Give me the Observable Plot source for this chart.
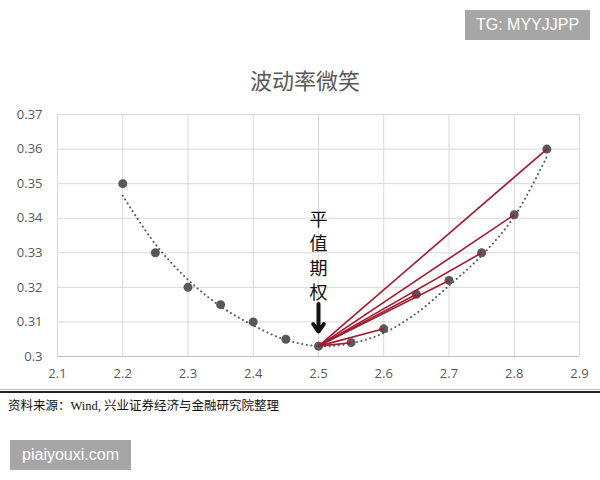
<!DOCTYPE html>
<html>
<head>
<meta charset="utf-8">
<script src="https://cdn.jsdelivr.net/npm/d3@7"></script>
<script src="https://cdn.jsdelivr.net/npm/@observablehq/plot@0.6"></script>
<style>
  html, body { margin: 0; padding: 0; background: #fff; }
  #page { position: relative; width: 600px; height: 480px; overflow: hidden; background: #fff; }
  #title { position: absolute; left: 0; width: 610px; top: 65px; text-align: center;
           font-family: "Noto Sans CJK SC", sans-serif; font-size: 22px; color: #595959; line-height: 28px; }
  #chart { position: absolute; left: 0; top: 95px; }
  #rule { position: absolute; left: 0; top: 391px; width: 600px; height: 2px; background: #222; }
  #rule2 { position: absolute; left: 0; top: 389px; width: 600px; height: 1px; background: #bbb; }
  #caption { position: absolute; left: 8px; top: 397px; font-family: "Liberation Serif", "Noto Sans CJK SC", serif;
             font-size: 12.5px; color: #111; line-height: 18px; }
  .wm { position: absolute; background: #a6a6a6; color: #fff; font-family: "Liberation Sans", Arial, sans-serif;
        font-size: 16px; display: flex; align-items: center; justify-content: center; }
  #wm1 { left: 465px; top: 10px; width: 125px; height: 30px; }
  #wm2 { left: 10px; top: 440px; width: 121px; height: 30px; }
</style>
</head>
<body>
<div id="page">
  <div id="title">波动率微笑</div>
  <div id="chart"></div>
  <div id="rule2"></div>
  <div id="rule"></div>
  <div id="caption">资料来源：Wind, 兴业证券经济与金融研究院整理</div>
  <div class="wm" id="wm1">TG: MYYJJPP</div>
  <div class="wm" id="wm2">piaiyouxi.com</div>
</div>
<script>
// Observed implied volatilities by strike
const strikes = [2.2, 2.25, 2.3, 2.35, 2.4, 2.45, 2.5, 2.55, 2.6, 2.65, 2.7, 2.75, 2.8, 2.85];
const vols    = [0.350, 0.330, 0.320, 0.315, 0.310, 0.305, 0.303, 0.304, 0.308, 0.318, 0.322, 0.330, 0.341, 0.360];

// Dotted trend curve
const trendX = [2.2, 2.25, 2.3, 2.35, 2.4, 2.45, 2.5, 2.55, 2.6, 2.65, 2.7, 2.75, 2.8, 2.85];
const trendY = [0.3465, 0.3325, 0.3222, 0.3145, 0.3090, 0.3048, 0.3030, 0.3038, 0.3068, 0.3125, 0.3205, 0.3292, 0.3405, 0.3578];

// Axis ticks
const xTicks = [2.1, 2.2, 2.3, 2.4, 2.5, 2.6, 2.7, 2.8, 2.9];
const yTicks = [0.3, 0.31, 0.32, 0.33, 0.34, 0.35, 0.36, 0.37];

// At-the-money option and annotation
const atmStrike = 2.5;
const atmVol = 0.303;
const annotText = "平值期权";
const annotY = 0.340;
const arrowTop = 0.3152;
const arrowBottom = 0.3072;

const points = strikes.map((s, i) => ({strike: s, vol: vols[i]}));
const trend = trendX.map((s, i) => ({strike: s, vol: trendY[i]}));
const fan = points.filter(d => d.strike > atmStrike).map(d => ({x1: atmStrike, y1: atmVol, x2: d.strike, y2: d.vol}));

const chart = Plot.plot({
  width: 600,
  height: 300,
  marginLeft: 57,
  marginRight: 21,
  marginTop: 19,
  marginBottom: 39,
  style: {fontFamily: "'Open Sans', sans-serif", fontSize: "13px", color: "#595959", background: "transparent"},
  x: {domain: [2.1, 2.9], ticks: xTicks, tickSize: 0, tickPadding: 12, tickFormat: d => String(d), label: null},
  y: {domain: [0.3, 0.37], ticks: yTicks, tickSize: 0, tickPadding: 15, tickFormat: d => String(d), label: null},
  marks: [
    Plot.ruleX(xTicks, {stroke: "#d9d9d9", strokeWidth: 1}),
    Plot.ruleY(yTicks, {stroke: "#d9d9d9", strokeWidth: 1}),
    Plot.ruleY([0.3], {stroke: "#bfbfbf", strokeWidth: 1}),
    Plot.line(trend, {x: "strike", y: "vol", curve: "catmull-rom", stroke: "#595959", strokeWidth: 2,
                      strokeDasharray: "0.1,4.5", strokeLinecap: "round"}),
    Plot.dot(points, {x: "strike", y: "vol", r: 4.5, fill: "#595959", stroke: "none"}),
    Plot.link(fan, {x1: "x1", y1: "y1", x2: "x2", y2: "y2", stroke: "#a3192f", strokeWidth: 1.6}),
    Plot.text([annotText], {x: atmStrike, y: annotY, text: d => d.split("").join("\n"), lineAnchor: "top",
                            lineHeight: 1.36, fontSize: 18, fill: "#111", dy: -10,
                            fontFamily: "Noto Sans CJK SC"}),
    Plot.arrow([0], {x1: atmStrike, y1: arrowTop, x2: atmStrike, y2: arrowBottom, stroke: "#111",
                     strokeWidth: 4, headLength: 9, headAngle: 70})
  ]
});
document.getElementById("chart").appendChild(chart);
</script>
</body>
</html>
